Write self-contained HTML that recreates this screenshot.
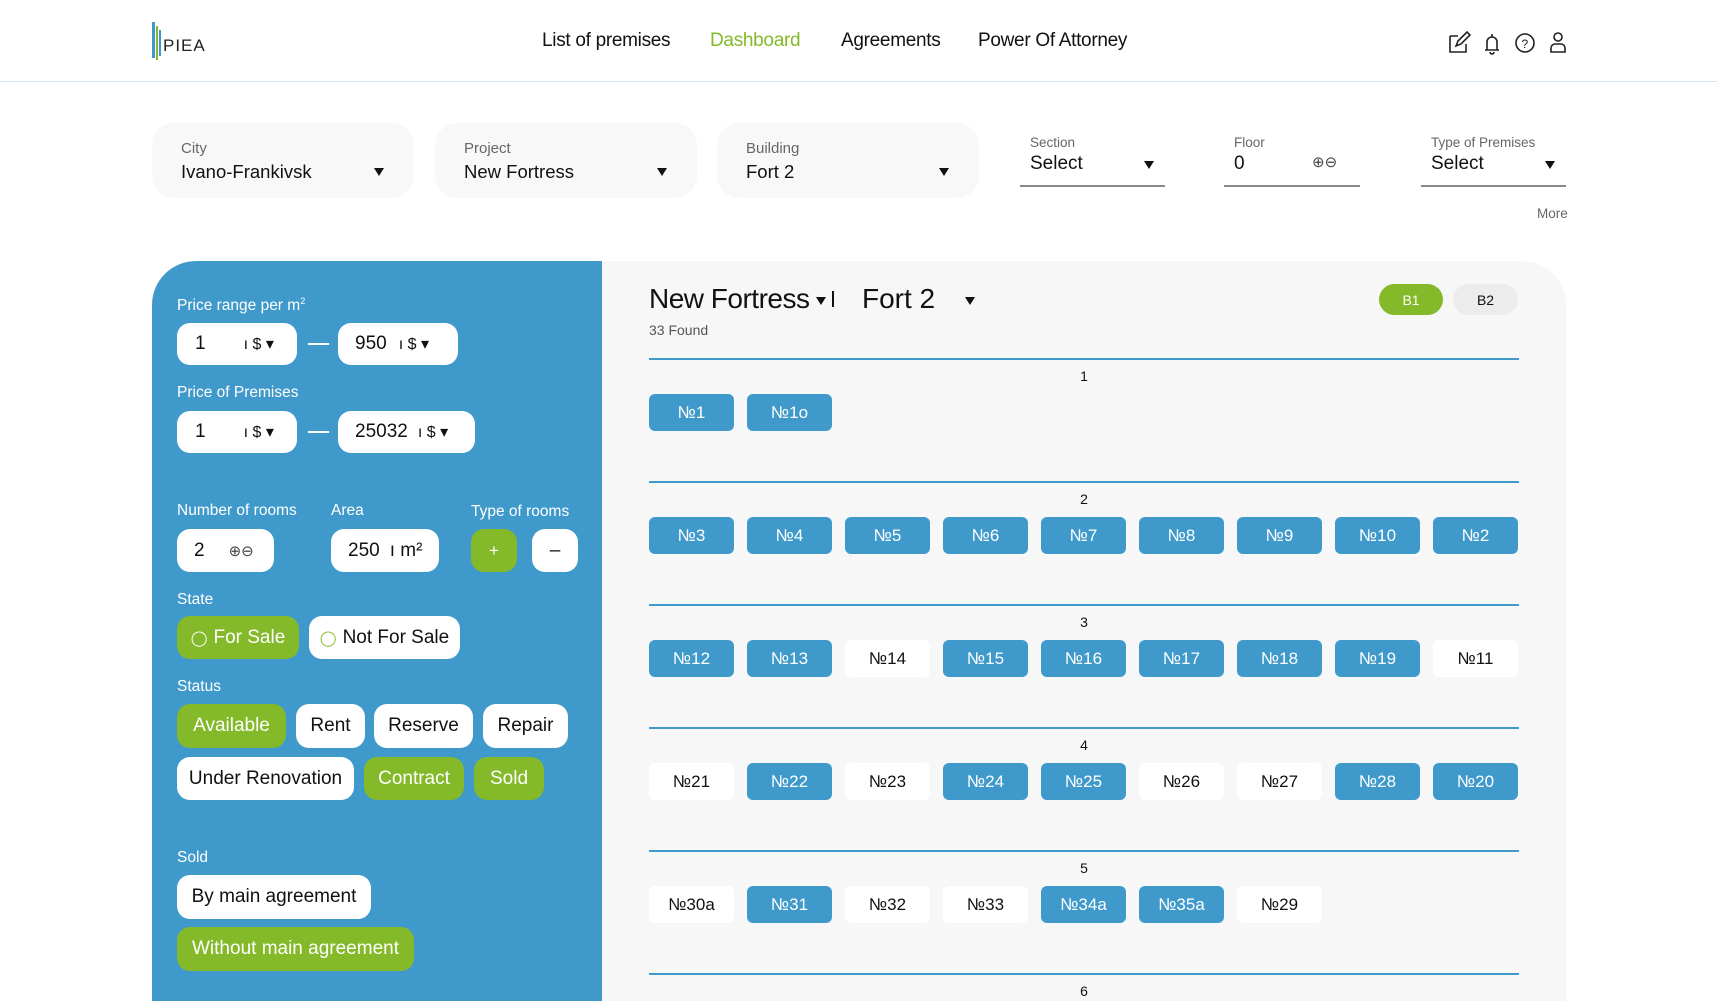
<!DOCTYPE html>
<html><head><meta charset="utf-8"><style>
*{margin:0;padding:0;box-sizing:border-box}
body{width:1717px;height:991px;overflow:hidden;background:#fff;font-family:"Liberation Sans",sans-serif;color:#111;position:relative}
.a{position:absolute}
.nav{font-size:19px;top:30px;letter-spacing:-0.3px}
.fbox{position:absolute;top:123px;height:75px;background:#f8f8f8;border-radius:22px;width:262px}
.fbox .l{position:absolute;left:29px;top:17px;font-size:15px;color:#666}
.fbox .v{position:absolute;left:29px;top:38px;font-size:18.5px}
.tri{position:absolute;width:0;height:0;border-left:5px solid transparent;border-right:5px solid transparent;border-top:8px solid #111}
.uf{position:absolute;top:133px;border-bottom:2px solid #888;height:54px}
.uf .l{position:absolute;left:10px;top:2px;font-size:13.5px;color:#666}
.uf .v{position:absolute;left:10px;top:20px;font-size:19px}
.lab{position:absolute;color:#fff;font-size:15.5px}
.wb{position:absolute;background:#fff;border-radius:13px;font-size:19px;display:flex;align-items:center;color:#111}
.gb{position:absolute;background:#84b92a;border-radius:13px;font-size:19px;display:flex;align-items:center;justify-content:center;color:#fff}
.line{position:absolute;left:649px;width:870px;height:2px;background:#3f9acb}
.rn{position:absolute;left:1074px;width:20px;text-align:center;font-size:14px}
.c{position:absolute;width:85px;height:37px;border-radius:6px;display:flex;align-items:center;justify-content:center;font-size:17px}
.B{background:#3f9acb;color:#fff}
.W{background:#fff;color:#111}
</style></head><body>
<!-- header -->
<div class="a" style="left:152px;top:22px;width:3px;height:36px;background:#3f9acb"></div>
<div class="a" style="left:156px;top:26px;width:2px;height:34px;background:#84b92a"></div>
<div class="a" style="left:159px;top:30px;width:2px;height:26px;background:#3f9acb"></div>
<div class="a" style="left:163px;top:36px;font-size:17px;letter-spacing:1px;color:#222">PIEA</div>
<div class="a nav" style="left:542px">List of premises</div>
<div class="a nav" style="left:710px;color:#84b92a">Dashboard</div>
<div class="a nav" style="left:841px">Agreements</div>
<div class="a nav" style="left:978px">Power Of Attorney</div>
<svg class="a" style="left:1447px;top:30px" width="122" height="26" viewBox="0 0 122 26" fill="none" stroke="#222" stroke-width="1.6">
<path d="M3 6h8M3 6v16h16v-8M9 16l2-5 9-9 3 3-9 9z"/>
<path d="M38 20h14M40 20v-8a5 5 0 0 1 10 0v8M43 22a2 2 0 0 0 4 0M45 4v3"/>
<circle cx="78" cy="13" r="9"/><text x="74.5" y="18" font-size="12" fill="#222" stroke="none" font-family="Liberation Sans">?</text>
<circle cx="111" cy="7" r="4"/><path d="M104 22v-4a4 4 0 0 1 4-4h6a4 4 0 0 1 4 4v4z"/>
</svg>
<div class="a" style="left:0;top:81px;width:1717px;height:1px;background:#d5e6f2"></div>

<!-- filters -->
<div class="fbox" style="left:152px"><div class="l">City</div><div class="v">Ivano-Frankivsk</div><div class="tri" style="left:222px;top:45px"></div></div>
<div class="fbox" style="left:435px"><div class="l">Project</div><div class="v">New Fortress</div><div class="tri" style="left:222px;top:45px"></div></div>
<div class="fbox" style="left:717px"><div class="l">Building</div><div class="v">Fort 2</div><div class="tri" style="left:222px;top:45px"></div></div>
<div class="uf" style="left:1020px;width:145px"><div class="l">Section</div><div class="v">Select</div><div class="tri" style="left:124px;top:28px"></div></div>
<div class="uf" style="left:1224px;width:136px"><div class="l">Floor</div><div class="v">0</div><div class="a" style="left:88px;top:20px;font-size:15px;color:#444">⊕⊖</div></div>
<div class="uf" style="left:1421px;width:145px"><div class="l">Type of Premises</div><div class="v">Select</div><div class="tri" style="left:124px;top:28px"></div></div>
<div class="a" style="left:1537px;top:206px;font-size:13.5px;color:#666">More</div>

<!-- left panel -->
<div class="a" style="left:152px;top:261px;width:451px;height:740px;background:#3f9acb;border-top-left-radius:44px"></div>
<div class="lab" style="left:177px;top:296px">Price range per m<sup style="font-size:9px">2</sup></div>
<div class="wb" style="left:177px;top:323px;width:120px;height:42px;padding-left:18px">1<span style="margin-left:38px;font-size:16px">ı $ ▾</span></div>
<div class="a" style="left:308px;top:343px;width:21px;height:2px;background:#fff"></div>
<div class="wb" style="left:338px;top:323px;width:120px;height:42px;padding-left:17px">950<span style="margin-left:12px;font-size:16px">ı $ ▾</span></div>
<div class="lab" style="left:177px;top:384px">Price of Premises</div>
<div class="wb" style="left:177px;top:411px;width:120px;height:42px;padding-left:18px">1<span style="margin-left:38px;font-size:16px">ı $ ▾</span></div>
<div class="a" style="left:308px;top:431px;width:21px;height:2px;background:#fff"></div>
<div class="wb" style="left:338px;top:411px;width:137px;height:42px;padding-left:17px">25032<span style="margin-left:10px;font-size:16px">ı $ ▾</span></div>
<div class="lab" style="left:177px;top:502px">Number of rooms</div>
<div class="lab" style="left:331px;top:502px">Area</div>
<div class="lab" style="left:471px;top:503px">Type of rooms</div>
<div class="wb" style="left:177px;top:529px;width:97px;height:43px;padding-left:17px">2<span style="margin-left:24px;font-size:15px;color:#444">⊕⊖</span></div>
<div class="wb" style="left:331px;top:529px;width:108px;height:43px;padding-left:17px">250<span style="margin-left:10px">ı m²</span></div>
<div class="gb" style="left:471px;top:529px;width:46px;height:43px;font-size:17px">+</div>
<div class="wb" style="left:532px;top:529px;width:46px;height:43px;justify-content:center">–</div>
<div class="lab" style="left:177px;top:591px">State</div>
<div class="gb" style="left:177px;top:616px;width:122px;height:43px"><span style="font-size:15px;margin-right:6px">◯</span>For Sale</div>
<div class="wb" style="left:309px;top:616px;width:151px;height:43px;justify-content:center"><span style="font-size:15px;margin-right:6px;color:#84b92a">◯</span>Not For Sale</div>
<div class="lab" style="left:177px;top:678px">Status</div>
<div class="gb" style="left:177px;top:704px;width:109px;height:44px">Available</div>
<div class="wb" style="left:296px;top:704px;width:69px;height:44px;justify-content:center">Rent</div>
<div class="wb" style="left:374px;top:704px;width:99px;height:44px;justify-content:center">Reserve</div>
<div class="wb" style="left:483px;top:704px;width:85px;height:44px;justify-content:center">Repair</div>
<div class="wb" style="left:177px;top:757px;width:177px;height:43px;justify-content:center">Under Renovation</div>
<div class="gb" style="left:364px;top:757px;width:100px;height:43px">Contract</div>
<div class="gb" style="left:474px;top:757px;width:70px;height:43px">Sold</div>
<div class="lab" style="left:177px;top:849px">Sold</div>
<div class="wb" style="left:177px;top:875px;width:194px;height:44px;justify-content:center">By main agreement</div>
<div class="gb" style="left:177px;top:927px;width:237px;height:44px">Without main agreement</div>

<!-- right panel -->
<div class="a" style="left:602px;top:261px;width:964px;height:740px;background:#f7f7f7;border-top-right-radius:44px"></div>
<div class="a" style="left:649px;top:283px;font-size:28px;letter-spacing:-0.5px">New Fortress</div>
<div class="tri" style="left:816px;top:297px"></div>
<div class="a" style="left:832px;top:291px;width:2px;height:16px;background:#111"></div>
<div class="a" style="left:862px;top:283px;font-size:28px">Fort 2</div>
<div class="tri" style="left:965px;top:297px"></div>
<div class="a" style="left:649px;top:322px;font-size:14px;color:#555">33 Found</div>
<div class="a" style="left:1379px;top:284px;width:64px;height:31px;border-radius:16px;background:#84b92a;color:#fff;font-size:14px;display:flex;align-items:center;justify-content:center">B1</div>
<div class="a" style="left:1453px;top:284px;width:65px;height:31px;border-radius:16px;background:#ececec;font-size:14px;display:flex;align-items:center;justify-content:center">B2</div>

<div class="line" style="top:358px"></div><div class="rn" style="top:368px">1</div>
<div class="c B" style="left:649px;top:394px">№1</div><div class="c B" style="left:747px;top:394px">№1o</div>

<div class="line" style="top:481px"></div><div class="rn" style="top:491px">2</div>
<div class="c B" style="left:649px;top:517px">№3</div><div class="c B" style="left:747px;top:517px">№4</div><div class="c B" style="left:845px;top:517px">№5</div><div class="c B" style="left:943px;top:517px">№6</div><div class="c B" style="left:1041px;top:517px">№7</div><div class="c B" style="left:1139px;top:517px">№8</div><div class="c B" style="left:1237px;top:517px">№9</div><div class="c B" style="left:1335px;top:517px">№10</div><div class="c B" style="left:1433px;top:517px">№2</div>

<div class="line" style="top:604px"></div><div class="rn" style="top:614px">3</div>
<div class="c B" style="left:649px;top:640px">№12</div><div class="c B" style="left:747px;top:640px">№13</div><div class="c W" style="left:845px;top:640px">№14</div><div class="c B" style="left:943px;top:640px">№15</div><div class="c B" style="left:1041px;top:640px">№16</div><div class="c B" style="left:1139px;top:640px">№17</div><div class="c B" style="left:1237px;top:640px">№18</div><div class="c B" style="left:1335px;top:640px">№19</div><div class="c W" style="left:1433px;top:640px">№11</div>

<div class="line" style="top:727px"></div><div class="rn" style="top:737px">4</div>
<div class="c W" style="left:649px;top:763px">№21</div><div class="c B" style="left:747px;top:763px">№22</div><div class="c W" style="left:845px;top:763px">№23</div><div class="c B" style="left:943px;top:763px">№24</div><div class="c B" style="left:1041px;top:763px">№25</div><div class="c W" style="left:1139px;top:763px">№26</div><div class="c W" style="left:1237px;top:763px">№27</div><div class="c B" style="left:1335px;top:763px">№28</div><div class="c B" style="left:1433px;top:763px">№20</div>

<div class="line" style="top:850px"></div><div class="rn" style="top:860px">5</div>
<div class="c W" style="left:649px;top:886px">№30a</div><div class="c B" style="left:747px;top:886px">№31</div><div class="c W" style="left:845px;top:886px">№32</div><div class="c W" style="left:943px;top:886px">№33</div><div class="c B" style="left:1041px;top:886px">№34a</div><div class="c B" style="left:1139px;top:886px">№35a</div><div class="c W" style="left:1237px;top:886px">№29</div>

<div class="line" style="top:973px"></div><div class="rn" style="top:983px">6</div>
</body></html>
